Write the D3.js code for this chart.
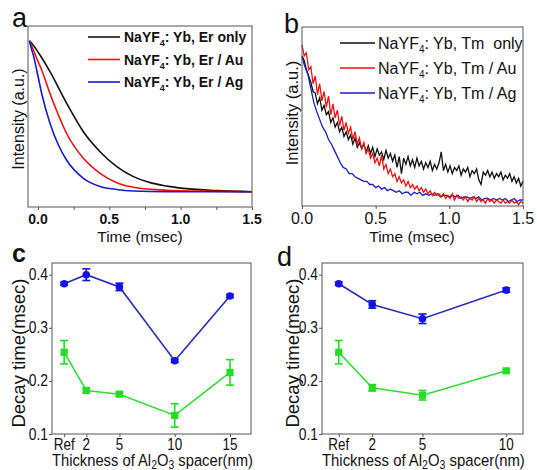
<!DOCTYPE html>
<html>
<head>
<meta charset="utf-8">
<script src="https://cdn.jsdelivr.net/npm/d3@7"></script>
<style>
  body { margin: 0; background: #fff; }
  text { font-family: Arial, "Liberation Sans", sans-serif; fill: #111; }
</style>
</head>
<body>
<svg id="fig" width="537" height="470"></svg>
<script>
// ---------- DATA ----------
// panel a: smooth decays, [time (msec), normalised intensity]
const aOnly = [[-0.06,1.0],[-0.033,0.97],[0.014,0.905],[0.084,0.795],[0.2,0.587],[0.318,0.397],[0.435,0.265],[0.552,0.166],[0.669,0.1],[0.786,0.06],[0.903,0.037],[1.02,0.022],[1.254,0.007],[1.5,0.0]]
const aAu = [[-0.06,1.0],[-0.033,0.94],[-0.009,0.883],[0.026,0.806],[0.084,0.65],[0.143,0.508],[0.2,0.387],[0.318,0.221],[0.435,0.122],[0.552,0.06],[0.669,0.03],[0.9,0.01],[1.2,0.003],[1.5,0.0]]
const aAg = [[-0.06,1.0],[-0.044,0.94],[-0.033,0.905],[-0.009,0.806],[0.026,0.65],[0.084,0.453],[0.143,0.309],[0.2,0.21],[0.318,0.089],[0.435,0.035],[0.552,0.015],[0.669,0.005],[0.9,0.0],[1.5,0.0]]
const aLabels = ["Yb, Er only", "Yb, Er / Au", "Yb, Er / Ag"]

// panel b: noisy decays, sampled every 0.015 msec (black, red) and 0.02 msec (blue)
const bStepOnly = 0.015
const bOnly = [0.93,0.90,0.84,0.80,0.76,0.70,0.69,0.62,0.66,0.58,0.61,0.55,0.57,0.50,0.53,0.47,0.50,0.44,0.47,0.41,
  0.44,0.39,0.42,0.36,0.40,0.34,0.37,0.33,0.36,0.31,0.35,0.30,0.34,0.28,0.33,0.29,0.31,0.26,0.32,0.27,
  0.30,0.25,0.29,0.21,0.28,0.17,0.27,0.23,0.28,0.22,0.26,0.21,0.27,0.22,0.25,0.20,0.24,0.21,0.25,0.19,
  0.23,0.20,0.24,0.31,0.19,0.23,0.18,0.22,0.17,0.21,0.19,0.22,0.16,0.20,0.18,0.21,0.15,0.19,0.17,0.20,
  0.13,0.10,0.18,0.16,0.19,0.15,0.18,0.14,0.17,0.15,0.18,0.13,0.16,0.14,0.17,0.12,0.15,0.11,0.14,0.09,0.12]
const bAu = [1.00,0.93,0.95,0.84,0.86,0.75,0.80,0.68,0.75,0.64,0.70,0.60,0.67,0.55,0.62,0.53,0.58,0.48,0.54,0.45,
  0.50,0.43,0.47,0.39,0.44,0.36,0.40,0.33,0.37,0.30,0.33,0.27,0.30,0.24,0.27,0.22,0.29,0.20,0.23,0.17,
  0.20,0.15,0.17,0.12,0.15,0.11,0.13,0.09,0.12,0.08,0.10,0.07,0.09,0.06,0.08,0.05,0.07,0.04,0.06,0.03,
  0.05,0.03,0.04,0.02,0.04,0.01,0.03,0.01,0.04,0.00,0.03,0.01,0.02,0.00,0.02,-0.01,0.01,0.00,0.02,-0.01,
  0.01,-0.01,0.00,-0.02,0.01,-0.01,0.00,-0.02,0.00,-0.01,-0.02,0.00,-0.02,-0.01,-0.02,0.00,-0.02,-0.01,-0.03,-0.01,-0.02]
const bStepAg = 0.02
const bAg = [0.92,0.86,0.81,0.72,0.63,0.57,0.52,0.47,0.44,0.39,0.36,0.32,0.28,0.24,0.21,0.20,0.17,0.17,0.15,0.14,
  0.13,0.12,0.12,0.10,0.10,0.08,0.09,0.07,0.08,0.06,0.07,0.06,0.05,0.06,0.04,0.05,0.05,0.03,0.05,0.04,
  0.05,0.03,0.04,0.03,0.04,0.03,0.04,0.02,0.03,0.03,0.02,0.03,0.02,0.03,0.01,0.02,0.02,0.01,0.02,0.01,
  0.02,0.00,0.01,0.01,0.00,0.01,0.00,0.01,0.00,0.01,-0.01,0.00,0.01,-0.01,0.00,0.00]
const bLabels = ["Yb, Tm  only", "Yb, Tm / Au", "Yb, Tm / Ag"]

// panels c, d: decay time vs spacer thickness
const cThick = [0, 2, 5, 10, 15]
const cCats = ["Ref", "2", "5", "10", "15"]
const cBlue = [0.383, 0.400, 0.377, 0.238, 0.360]
const cBlueErr = [0.003, 0.011, 0.007, 0.003, 0.003]
const cGreen = [0.254, 0.182, 0.175, 0.135, 0.216]
const cGreenErr = [0.022, 0.004, 0.004, 0.022, 0.024]

const dThick = [0, 2, 5, 10]
const dCats = ["Ref", "2", "5", "10"]
const dBlue = [0.383, 0.344, 0.317, 0.371]
const dBlueErr = [0.003, 0.007, 0.009, 0.004]
const dGreen = [0.254, 0.187, 0.173, 0.219]
const dGreenErr = [0.022, 0.006, 0.009, 0.003]

const decayTicks = [0.1, 0.2, 0.3, 0.4]
const timeTicks = [0, 0.5, 1.0, 1.5]

// ---------- DRAWING ----------
const svg = d3.select('#fig')
const colors = ["#111111", "#ee1111", "#1a1ad0"]
const frameColor = "#555"

function frame(x0, x1, y0, y1) {
  svg.append("rect")
    .attr("x", x0).attr("y", y0)
    .attr("width", x1 - x0).attr("height", y1 - y0)
    .attr("fill", "none").attr("stroke", frameColor).attr("stroke-width", 1)
}

// ----- panel a -----
{
  const x = d3.scaleLinear().domain([-0.07, 1.5]).range([28, 252])
  const y = d3.scaleLinear().domain([0, 1]).range([191.7, 40.7])
  const line = d3.line().x(d => x(d[0])).y(d => y(d[1])).curve(d3.curveMonotoneX)
  ;[aOnly, aAu, aAg].forEach((s, i) => {
    svg.append("path").datum(s).attr("d", line)
      .attr("fill", "none").attr("stroke", colors[i]).attr("stroke-width", 1.6)
  })
  frame(28, 252, 26, 207)
  const ax = svg.append("g").attr("transform", "translate(0,207)")
    .call(d3.axisBottom(x).tickValues(d3.range(0, 1.51, 0.25)).tickSize(3).tickSizeOuter(0).tickFormat(""))
  ax.select(".domain").remove()
  ax.selectAll("line").attr("stroke", frameColor)
  svg.selectAll("text.ta").data(timeTicks).join("text").attr("class", "ta")
    .attr("x", d => x(d)).attr("y", 224).attr("text-anchor", "middle")
    .attr("font-size", 14).attr("font-weight", "bold").text(d => d3.format(".1f")(d))
  svg.append("text").attr("x", 140).attr("y", 242).attr("text-anchor", "middle")
    .attr("font-size", 15.5).text("Time (msec)")
  svg.append("text").attr("transform", "translate(24,119) rotate(-90)")
    .attr("text-anchor", "middle").attr("font-size", 16).text("Intensity (a.u.)")
  svg.append("text").attr("x", 12).attr("y", 27).attr("font-size", 27).text("a")
  aLabels.forEach((lab, i) => {
    const ly = 37 + i * 22.5
    svg.append("line").attr("x1", 88).attr("x2", 120).attr("y1", ly).attr("y2", ly)
      .attr("stroke", colors[i]).attr("stroke-width", 1.6)
    const t = svg.append("text").attr("x", 124).attr("y", ly + 5)
      .attr("font-size", 14).attr("font-weight", "bold")
    t.append("tspan").text("NaYF")
    t.append("tspan").attr("font-size", 9).attr("dy", 4).text("4")
    t.append("tspan").attr("dy", -4).text(": " + lab)
  })
}

// ----- panel b -----
{
  const x = d3.scaleLinear().domain([0, 1.5]).range([302, 523])
  const y = d3.scaleLinear().domain([0, 1]).range([200, 45])
  const lineOnly = d3.line().x((d, i) => x(i * bStepOnly)).y(d => y(d))
  const lineAg = d3.line().x((d, i) => x(i * bStepAg)).y(d => y(d))
  svg.append("path").datum(bOnly).attr("d", lineOnly)
    .attr("fill", "none").attr("stroke", colors[0]).attr("stroke-width", 1.3)
  svg.append("path").datum(bAg).attr("d", lineAg)
    .attr("fill", "none").attr("stroke", colors[2]).attr("stroke-width", 1.3)
  svg.append("path").datum(bAu).attr("d", lineOnly)
    .attr("fill", "none").attr("stroke", colors[1]).attr("stroke-width", 1.3)
  frame(302, 523, 27, 206)
  const ax = svg.append("g").attr("transform", "translate(0,206)")
    .call(d3.axisBottom(x).tickValues(timeTicks).tickSize(3).tickSizeOuter(0).tickFormat(""))
  ax.select(".domain").remove()
  ax.selectAll("line").attr("stroke", frameColor)
  svg.selectAll("text.tb").data(timeTicks).join("text").attr("class", "tb")
    .attr("x", d => x(d)).attr("y", 224).attr("text-anchor", "middle")
    .attr("font-size", 16).text(d => d3.format(".1f")(d))
  svg.append("text").attr("x", 412).attr("y", 242).attr("text-anchor", "middle")
    .attr("font-size", 15.5).text("Time (msec)")
  svg.append("text").attr("transform", "translate(298,113) rotate(-90)")
    .attr("text-anchor", "middle").attr("font-size", 16.5).text("Intensity (a.u.)")
  svg.append("text").attr("x", 284).attr("y", 33).attr("font-size", 27).text("b")
  bLabels.forEach((lab, i) => {
    const ly = 43 + i * 25
    svg.append("line").attr("x1", 340).attr("x2", 375).attr("y1", ly).attr("y2", ly)
      .attr("stroke", colors[i]).attr("stroke-width", 1.6)
    const t = svg.append("text").attr("x", 378).attr("y", ly + 5.5)
      .attr("font-size", 16).attr("xml:space", "preserve")
    t.append("tspan").text("NaYF")
    t.append("tspan").attr("font-size", 10).attr("dy", 4).text("4")
    t.append("tspan").attr("dy", -4).text(": " + lab)
  })
}

// ----- panels c and d -----
// the original uses a condensed face: squeeze text horizontally
const squeeze = 0.84

function decayPanel(opt) {
  const x = d3.scaleLinear().domain(opt.xDomain).range([opt.x0, opt.x1])
  const y = d3.scaleLinear().domain([0.1, 0.422]).range([434, 263])
  const series = [
    {vals: opt.blue, err: opt.blueErr, line: "#2c2cb4", mark: "#1212e6", shape: "circle"},
    {vals: opt.green, err: opt.greenErr, line: "#2ee02e", mark: "#22dd22", shape: "square"}
  ]
  series.forEach(s => {
    const pts = opt.thick.map((t, i) => ({t, v: s.vals[i], e: s.err[i]}))
    svg.append("path").datum(pts)
      .attr("d", d3.line().x(d => x(d.t)).y(d => y(d.v)))
      .attr("fill", "none").attr("stroke", s.line).attr("stroke-width", 1.6)
    const g = svg.append("g").attr("stroke", s.mark).attr("stroke-width", 1.6)
    pts.forEach(d => {
      g.append("line").attr("x1", x(d.t)).attr("x2", x(d.t)).attr("y1", y(d.v - d.e)).attr("y2", y(d.v + d.e))
      ;[d.v - d.e, d.v + d.e].forEach(v => {
        g.append("line").attr("x1", x(d.t) - 4).attr("x2", x(d.t) + 4).attr("y1", y(v)).attr("y2", y(v))
      })
    })
    if (s.shape === "circle") {
      svg.selectAll(null).data(pts).join("circle")
        .attr("cx", d => x(d.t)).attr("cy", d => y(d.v)).attr("r", 3.8).attr("fill", s.mark)
    } else {
      svg.selectAll(null).data(pts).join("rect")
        .attr("x", d => x(d.t) - 3.6).attr("y", d => y(d.v) - 3.6)
        .attr("width", 7.2).attr("height", 7.2).attr("fill", s.mark)
    }
  })
  frame(opt.x0, opt.x1, 263, 434)
  const ax = svg.append("g").attr("transform", "translate(0,434)")
    .call(d3.axisBottom(x).tickValues(opt.thick).tickSize(3).tickSizeOuter(0).tickFormat(""))
  ax.select(".domain").remove()
  ax.selectAll("line").attr("stroke", frameColor)
  const ay = svg.append("g").attr("transform", `translate(${opt.x0},0)`)
    .call(d3.axisLeft(y).tickValues(decayTicks).tickSize(3).tickSizeOuter(0).tickFormat(""))
  ay.select(".domain").remove()
  ay.selectAll("line").attr("stroke", frameColor)
  svg.selectAll(null).data(decayTicks).join("text")
    .attr("transform", d => `translate(${opt.x0 - 4},${y(d) + 5.5}) scale(${squeeze},1)`)
    .attr("text-anchor", "end")
    .attr("font-size", 16.5).attr("fill", "#333").text(d => d3.format(".1f")(d))
  svg.selectAll(null).data(opt.thick).join("text")
    .attr("transform", d => `translate(${x(d)},450) scale(${squeeze},1)`)
    .attr("text-anchor", "middle")
    .attr("font-size", 16).text((d, i) => opt.cats[i])
  // axis title, scaled to span the plot width
  const t = svg.append("text").attr("font-size", 17)
  t.append("tspan").text("Thickness of Al")
  t.append("tspan").attr("font-size", 12).attr("dy", 3).text("2")
  t.append("tspan").attr("dy", -3).text("O")
  t.append("tspan").attr("font-size", 12).attr("dy", 3).text("3")
  t.append("tspan").attr("dy", -3).text(" spacer(nm)")
  const w = t.node().getComputedTextLength()
  t.attr("transform", `translate(${opt.x0},465.5) scale(${(opt.x1 - opt.x0 + 2) / w},1)`)
  svg.append("text")
    .attr("transform", `translate(${opt.tx},353) rotate(-90)`)
    .attr("text-anchor", "middle").attr("font-size", 18.5).text("Decay time(msec)")
  svg.append("text").attr("x", opt.lx).attr("y", opt.ly)
    .attr("font-size", opt.lsize).attr("font-weight", opt.lweight).text(opt.letter)
}

decayPanel({x0: 52, x1: 251, xDomain: [-1.1, 16.9], thick: cThick, cats: cCats,
  blue: cBlue, blueErr: cBlueErr, green: cGreen, greenErr: cGreenErr, tx: 25,
  letter: "c", lx: 12, ly: 262, lsize: 25, lweight: "bold"})
decayPanel({x0: 322, x1: 523, xDomain: [-1, 11], thick: dThick, cats: dCats,
  blue: dBlue, blueErr: dBlueErr, green: dGreen, greenErr: dGreenErr, tx: 299,
  letter: "d", lx: 277, ly: 266, lsize: 27, lweight: "normal"})
</script>
</body>
</html>
